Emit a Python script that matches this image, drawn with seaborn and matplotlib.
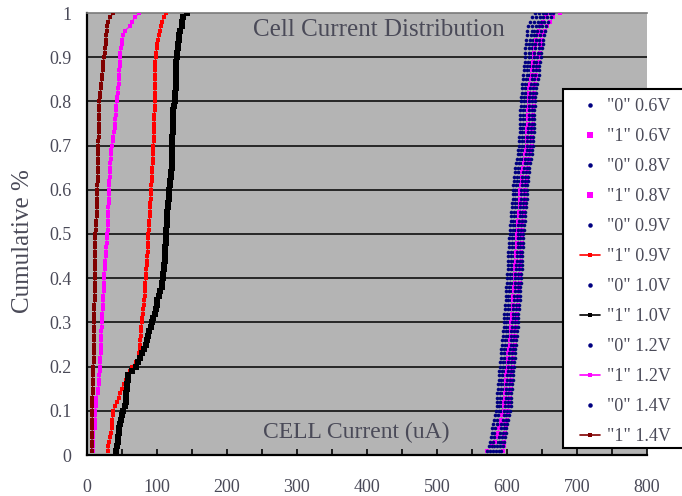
import numpy as np
import pandas as pd
import matplotlib
matplotlib.use("Agg")
import matplotlib.pyplot as plt
import seaborn as sns
from matplotlib.lines import Line2D
from matplotlib.patches import Rectangle
from matplotlib.ticker import MultipleLocator, FuncFormatter

sns.set_theme(style="white")
plt.rcParams["font.family"] = ["Liberation Serif", "DejaVu Serif"]

# ---------------- data (cell currents in uA) ----------------
zero_06V = [580, 582, 584, 585, 586, 587, 588, 590, 591, 592,
            593, 593, 594, 594, 595, 595, 596, 596, 597, 598,
            598, 599, 599, 600, 601, 601, 602, 602, 603, 603,
            604, 604, 605, 605, 606, 606, 607, 607, 608, 608,
            608, 609, 609, 610, 610, 610, 611, 611, 611, 611,
            612, 612, 613, 614, 614, 615, 615, 616, 616, 616,
            617, 618, 618, 619, 620, 621, 622, 623, 624, 625,
            625, 625, 626, 626, 627, 627, 627, 627, 628, 628,
            628, 629, 629, 630, 631, 632, 633, 633, 634, 635,
            635, 636, 636, 637, 638, 639, 641, 644, 647, 651]
one_06V = [571, 578, 583, 585, 587, 589, 591, 592, 593, 595,
           596, 596, 597, 597, 598, 598, 599, 599, 600, 601,
           601, 602, 602, 603, 604, 604, 605, 605, 606, 606,
           607, 607, 608, 608, 609, 609, 610, 610, 611, 611,
           611, 612, 612, 613, 613, 613, 614, 614, 614, 614,
           615, 615, 616, 617, 617, 618, 618, 619, 619, 619,
           620, 621, 621, 622, 623, 624, 625, 626, 627, 628,
           628, 628, 629, 629, 630, 630, 630, 630, 631, 631,
           631, 632, 632, 633, 634, 635, 636, 637, 637, 638,
           639, 640, 641, 642, 644, 646, 649, 652, 655, 660]
zero_08V = [584, 586, 588, 589, 590, 591, 592, 594, 595, 596,
            597, 597, 598, 598, 599, 599, 600, 600, 601, 602,
            602, 603, 603, 604, 605, 605, 606, 606, 607, 607,
            608, 608, 609, 609, 610, 610, 611, 611, 612, 612,
            612, 613, 613, 614, 614, 614, 615, 615, 615, 615,
            616, 616, 617, 618, 618, 619, 619, 620, 620, 620,
            621, 622, 622, 623, 624, 625, 626, 627, 628, 629,
            629, 629, 630, 630, 631, 631, 631, 631, 632, 632,
            632, 633, 633, 634, 635, 636, 637, 637, 638, 639,
            639, 640, 640, 641, 642, 643, 645, 648, 651, 655]
one_08V = [594, 595, 596, 596, 597, 598, 599, 600, 601, 602,
           603, 603, 604, 604, 605, 605, 606, 606, 607, 608,
           608, 609, 609, 610, 611, 611, 612, 612, 613, 613,
           614, 614, 615, 615, 616, 616, 617, 617, 618, 618,
           618, 619, 619, 620, 620, 620, 621, 621, 621, 621,
           622, 622, 623, 624, 624, 625, 625, 626, 626, 626,
           627, 628, 628, 629, 630, 631, 632, 633, 634, 635,
           635, 635, 636, 636, 637, 637, 637, 637, 638, 638,
           638, 639, 639, 640, 641, 642, 643, 644, 645, 646,
           647, 648, 649, 650, 652, 654, 657, 661, 665, 676]
zero_09V = [572, 574, 576, 577, 578, 579, 580, 582, 583, 584,
            585, 585, 586, 586, 587, 587, 588, 588, 589, 590,
            590, 591, 591, 592, 593, 593, 594, 594, 595, 595,
            596, 596, 597, 597, 598, 598, 599, 599, 600, 600,
            600, 601, 601, 602, 602, 602, 603, 603, 603, 604,
            604, 604, 605, 606, 606, 607, 607, 608, 608, 608,
            609, 610, 610, 611, 612, 613, 614, 615, 616, 617,
            617, 617, 618, 618, 619, 619, 619, 619, 620, 620,
            620, 621, 621, 622, 623, 623, 624, 624, 625, 626,
            626, 626, 627, 627, 628, 629, 630, 633, 636, 640]
one_09V = [30.0, 30.5, 32.0, 33.5, 34.3, 35.0, 35.6, 36.2, 36.9, 37.6,
           40.0, 42.4, 45.0, 47.2, 49.5, 52.5, 55.8, 59.0, 61.5, 63.8,
           70.0, 74.3, 74.8, 75.3, 75.7, 76.2, 76.7, 77.2, 77.6, 78.1,
           78.9, 79.7, 80.5, 81.2, 81.9, 82.3, 82.7, 83.1, 83.5, 83.8,
           84.3, 84.8, 85.3, 85.8, 86.2, 86.5, 86.8, 87.1, 87.4, 87.6,
           88.1, 88.6, 89.1, 89.6, 90.0, 90.3, 90.6, 90.9, 91.2, 91.4,
           91.8, 92.2, 92.6, 93.0, 93.3, 93.6, 93.9, 94.2, 94.5, 94.8,
           95.0, 95.3, 95.5, 95.8, 96.0, 96.2, 96.4, 96.6, 96.8, 97.0,
           97.0, 97.1, 97.1, 97.2, 97.2, 97.3, 97.5, 97.7, 97.8, 98.0,
           98.8, 99.6, 100.5, 101.7, 102.9, 104.3, 105.5, 106.7, 110.0, 112.9]
zero_10V = [592, 594, 596, 597, 598, 599, 600, 602, 603, 604,
            605, 605, 606, 606, 607, 607, 608, 608, 609, 610,
            610, 611, 611, 612, 613, 613, 614, 614, 615, 615,
            616, 616, 617, 617, 618, 618, 619, 619, 620, 620,
            620, 621, 621, 622, 622, 622, 623, 623, 623, 623,
            624, 624, 625, 626, 626, 627, 627, 628, 628, 628,
            629, 630, 630, 631, 632, 633, 634, 635, 636, 637,
            637, 637, 638, 638, 639, 639, 639, 639, 640, 640,
            640, 641, 642, 643, 644, 645, 646, 646, 647, 648,
            649, 650, 651, 652, 653, 654, 656, 659, 663, 666]
one_10V = [42.0, 43.3, 44.0, 44.8, 45.7, 46.4, 47.2, 48.0, 50.0, 51.9,
           53.8, 55.7, 56.0, 56.4, 56.7, 57.5, 58.2, 59.0, 64.5, 70.0,
           73.0, 75.7, 78.5, 81.4, 84.3, 86.0, 87.6, 89.2, 90.8, 92.4,
           94.8, 97.1, 98.2, 99.4, 100.5, 102.6, 104.6, 106.7, 107.4, 108.1,
           108.8, 109.4, 110.1, 110.8, 111.4, 111.7, 112.0, 112.3, 112.6, 112.9,
           113.3, 113.7, 114.1, 114.5, 114.8, 115.4, 115.9, 116.5, 117.0, 117.6,
           118.1, 118.6, 119.4, 120.2, 121.0, 121.2, 121.4, 121.5, 121.7, 121.9,
           122.0, 122.1, 122.2, 122.3, 122.4, 122.7, 123.0, 123.3, 124.5, 125.7,
           126.0, 126.2, 126.5, 126.8, 127.0, 127.2, 127.4, 127.6, 127.8, 128.0,
           128.8, 129.7, 130.5, 131.3, 132.1, 132.9, 135.2, 136.4, 137.6, 142.4]
zero_12V = [576, 578, 580, 581, 582, 583, 585, 586, 587, 589,
            589, 590, 590, 590, 591, 592, 592, 593, 593, 594,
            594, 595, 595, 596, 597, 597, 598, 598, 599, 599,
            600, 600, 601, 601, 602, 602, 603, 603, 604, 604,
            604, 605, 605, 606, 606, 606, 607, 607, 607, 607,
            608, 608, 609, 610, 610, 611, 611, 612, 612, 612,
            613, 614, 614, 615, 616, 617, 618, 619, 620, 621,
            621, 621, 622, 622, 623, 623, 623, 623, 624, 624,
            624, 625, 625, 626, 627, 628, 629, 629, 630, 631,
            631, 632, 632, 633, 634, 635, 636, 639, 642, 646]
one_12V = [8.0, 8.3, 8.6, 8.9, 9.2, 11.0, 11.4, 11.6, 11.8, 12.0,
           12.3, 12.8, 13.5, 15.0, 16.2, 16.8, 17.3, 17.8, 18.2, 18.6,
           18.9, 19.2, 19.5, 19.7, 20.0, 20.2, 20.4, 20.6, 20.8, 21.0,
           21.5, 22.0, 22.5, 23.0, 23.3, 23.5, 23.8, 24.0, 24.2, 24.3,
           24.8, 25.3, 25.8, 26.3, 26.7, 27.2, 27.6, 28.0, 28.5, 29.0,
           29.3, 29.6, 29.9, 30.2, 30.5, 30.7, 30.9, 31.1, 31.3, 31.4,
           31.7, 32.0, 32.3, 32.6, 32.9, 33.3, 33.8, 34.2, 34.7, 35.2,
           36.5, 37.5, 38.5, 39.3, 40.0, 40.5, 41.0, 41.5, 42.0, 42.4,
           43.0, 43.7, 44.3, 45.0, 45.7, 46.0, 46.3, 46.5, 46.8, 47.0,
           47.8, 48.6, 49.5, 50.5, 52.0, 54.0, 61.4, 63.8, 68.6, 74.3]
zero_14V = [588, 590, 592, 593, 594, 595, 596, 598, 599, 600,
            601, 601, 602, 602, 603, 603, 604, 604, 605, 606,
            606, 607, 607, 608, 609, 609, 610, 610, 611, 611,
            612, 612, 613, 613, 614, 614, 615, 615, 616, 616,
            616, 617, 617, 618, 618, 618, 619, 619, 619, 619,
            620, 620, 621, 622, 622, 623, 623, 624, 624, 624,
            625, 626, 626, 627, 628, 629, 630, 631, 632, 633,
            633, 633, 634, 634, 635, 635, 635, 635, 636, 636,
            636, 637, 637, 638, 639, 640, 641, 641, 642, 643,
            644, 645, 645, 646, 647, 648, 650, 653, 657, 661]
one_14V = [6.5, 7.0, 7.0, 7.2, 7.3, 7.4, 7.5, 7.5, 7.6, 7.6,
           7.7, 7.8, 7.8, 7.9, 8.0, 8.0, 8.1, 8.2, 8.3, 8.5,
           9.5, 9.8, 10.0, 10.1, 10.2, 10.3, 10.4, 10.4, 10.5, 10.5,
           10.6, 10.6, 10.7, 10.7, 10.8, 10.8, 10.9, 10.9, 11.0, 11.0,
           11.1, 11.1, 11.2, 11.2, 11.3, 11.3, 11.4, 11.4, 11.5, 11.6,
           12.5, 13.0, 13.4, 13.7, 14.0, 14.2, 14.4, 14.5, 14.7, 14.8,
           14.9, 15.0, 15.2, 15.3, 15.5, 15.6, 15.8, 15.9, 16.0, 16.2,
           16.3, 16.5, 16.6, 16.8, 16.9, 17.0, 17.2, 17.3, 17.5, 17.6,
           18.5, 19.2, 19.8, 20.5, 21.0, 21.6, 22.2, 22.8, 23.5, 24.3,
           25.0, 25.8, 26.5, 27.0, 27.5, 28.0, 29.0, 30.0, 33.0, 37.6]

labels = ['"0" 0.6V', '"1" 0.6V', '"0" 0.8V', '"1" 0.8V', '"0" 0.9V', '"1" 0.9V',
          '"0" 1.0V', '"1" 1.0V', '"0" 1.2V', '"1" 1.2V', '"0" 1.4V', '"1" 1.4V']
values = [zero_06V, one_06V, zero_08V, one_08V, zero_09V, one_09V,
          zero_10V, one_10V, zero_12V, one_12V, zero_14V, one_14V]
y_ticks = [0, 0.1, 0.2, 0.3, 0.4, 0.5, 0.6, 0.7, 0.8, 0.9, 1]
y_ticklabels = ["0", "0.1", "0.2", "0.3", "0.4", "0.5", "0.6", "0.7", "0.8", "0.9", "1"]

# styles: (kind, color, marker, size)
NAVY = "#000080"
styles = [
    ("dot", NAVY, "o", 2.6), ("dot", "#ff00ff", "s", 3.0),
    ("dot", NAVY, "o", 2.6), ("dot", "#ff00ff", "s", 3.0),
    ("dot", NAVY, "o", 2.6), ("line", "#ff0000", "s", 3.0),
    ("dot", NAVY, "o", 2.6), ("line", "#000000", "s", 3.7),
    ("dot", NAVY, "o", 2.6), ("line", "#ff00ff", "s", 3.0),
    ("dot", NAVY, "o", 2.6), ("line", "#800000", "s", 3.0),
]

# cumulative distribution (empirical CDF) of each series
frames = []
for lab, vals in zip(labels, values):
    v = np.sort(np.asarray(vals, dtype=float))
    n = len(v)
    frames.append(pd.DataFrame({"current": v, "cum": np.arange(1, n + 1) / n, "series": lab}))
df = pd.concat(frames, ignore_index=True)

TXT = "#4a4a58"
W, H = 682, 496
fig = plt.figure(figsize=(6.82, 4.96), dpi=100)
ax = fig.add_axes([87 / W, 1 - 455 / H, (647 - 87) / W, (455 - 13) / H])
ax.set_facecolor("#b4b4b4")

for lab, (kind, col, mk, ms) in zip(labels, styles):
    sub = df[df["series"] == lab]
    if kind == "dot":
        sns.scatterplot(data=sub, x="current", y="cum", color=col, marker=mk,
                        s=ms ** 2, linewidth=0, ax=ax, legend=False, zorder=3)
    else:
        sns.lineplot(data=sub, x="current", y="cum", color=col, marker=mk,
                     markersize=ms, markeredgewidth=0, linewidth=0.8,
                     sort=False, estimator=None, ax=ax, legend=False, zorder=3)

ax.set_xlim(0, 800)
ax.set_ylim(0, 1)
ax.xaxis.set_major_locator(MultipleLocator(50))
ax.xaxis.set_major_formatter(FuncFormatter(lambda v, p: f"{int(round(v))}" if int(round(v)) % 100 == 0 else ""))
ax.set_yticks(y_ticks)
ax.set_yticklabels(y_ticklabels)
ax.tick_params(axis="x", direction="in", length=4.5, width=1.2, color="black",
               pad=17, labelsize=13, labelcolor=TXT, bottom=True)
ax.tick_params(axis="y", length=0, pad=11, labelsize=13, labelcolor=TXT)
for yv in y_ticks[1:-1]:
    ax.axhline(yv, color="black", linewidth=1.1, zorder=1)
ax.grid(False)
ax.set_xlabel("")
ax.set_ylabel("")
for side in ["left", "bottom"]:
    ax.spines[side].set_color("black")
    ax.spines[side].set_linewidth(1.6)
ax.spines["top"].set_color("#7a7a7a")
ax.spines["top"].set_linewidth(1.2)
ax.spines["right"].set_visible(False)

ax.text(417, 0.962, "Cell Current Distribution", ha="center", va="center",
        fontsize=18, color=TXT, zorder=4)
ax.text(385, 0.05, "CELL Current (uA)", ha="center", va="center",
        fontsize=17, color=TXT, zorder=4)
fig.text(23 / W, 1 - 241 / H, "Cumulative %", rotation=90, ha="center",
         va="center", fontsize=18, color=TXT)

# legend frame (runs off the right edge of the figure, as in the original)
frame = Rectangle((563 / W, 1 - 448 / H), (720 - 563) / W, (448 - 89) / H,
                  transform=fig.transFigure, facecolor="white", edgecolor="black",
                  linewidth=1.5, zorder=4)
fig.add_artist(frame)

handles = []
for kind, col, mk, ms in styles:
    if kind == "dot":
        handles.append(Line2D([], [], color=col, marker=mk, markersize=ms * 1.25,
                              markeredgewidth=0, linestyle="none"))
    else:
        handles.append(Line2D([], [], color=col, marker=mk, markersize=ms * 0.8,
                              markeredgewidth=0, linestyle="-", linewidth=1.2))
leg = fig.legend(handles, labels, loc="upper left", bbox_to_anchor=(580 / W, 1 - 98 / H),
                 frameon=False, fontsize=13, labelcolor=TXT, labelspacing=0.72,
                 handlelength=1.1, handletextpad=0.4, borderpad=0, borderaxespad=0)
leg.set_zorder(5)

fig.savefig("out.png", dpi=100)
